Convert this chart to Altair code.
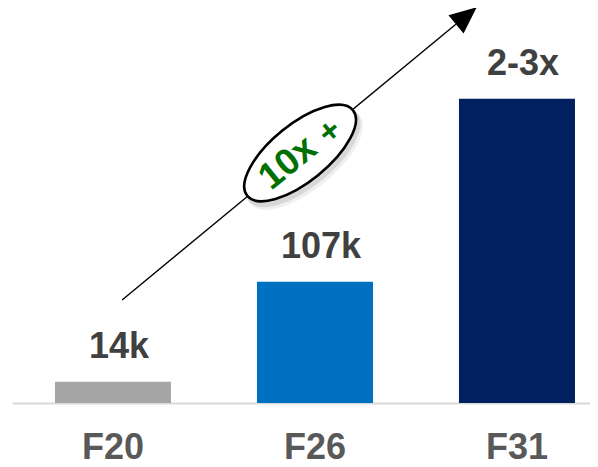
import altair as alt
import pandas as pd

# ---- data ----
categories = ["F20", "F26", "F31"]
values = [18.8, 107, 268.4]          # bar heights (same units as the 107k bar)
labels = ["14k", "107k", "2-3x"]
bar_colors = ["#a6a6a6", "#0070c0", "#002060"]

# annotation geometry in data units (x: category index, y: value units)
arrow_x = [0.045, 1.697]
arrow_y = [90.9, 334.1]
head_x = [1.749]
head_y = [341.5]
ellipse_x = [0.926]
ellipse_y = [220.5]
shadow_x = [0.941, 0.953]
shadow_y = [216.5, 214.3]
tag_x = [0.866, 1.074]
tag_y = [211.7, 239.0]
tag_text = ["10x", "+"]
tag_size = [37, 33]

FONT = "Liberation Sans"
Y_DOMAIN = [0, 348.4]
X_ANN_DOMAIN = [-0.5, 2.361]

bars_df = pd.DataFrame({"cat": categories, "val": values, "lab": labels})

xband = alt.X(
    "cat:N",
    sort=categories,
    scale=alt.Scale(paddingInner=0.4257, paddingOuter=0.1436, align=0.741),
    axis=alt.Axis(
        title=None, ticks=False, grid=False, domain=True,
        labelFont=FONT, labelFontSize=36, labelFontWeight="bold",
        labelColor="#595959", labelBaseline="alphabetic", labelPadding=55,
        labelAngle=0, domainColor="#d9d9d9", domainWidth=2,
    ),
)
yq = alt.Y("val:Q", scale=alt.Scale(domain=Y_DOMAIN, nice=False, zero=True), axis=None)

bars = alt.Chart(bars_df).mark_bar().encode(
    x=xband,
    y=yq,
    color=alt.Color("cat:N", scale=alt.Scale(domain=categories, range=bar_colors), legend=None),
)
texts = alt.Chart(bars_df).mark_text(
    font=FONT, fontSize=36, fontWeight="bold", color="#404040",
    baseline="alphabetic", align="center", dy=-24, dx=6,
).encode(x=xband, y=yq, text="lab:N")

base_layer = alt.layer(bars, texts)

xs = alt.Scale(domain=X_ANN_DOMAIN, nice=False, zero=False)
ys = alt.Scale(domain=Y_DOMAIN, nice=False, zero=True)

arrow_df = pd.DataFrame({"ax": arrow_x, "ay": arrow_y})
arrow = alt.Chart(arrow_df).mark_line(color="black", strokeWidth=1.4).encode(
    x=alt.X("ax:Q", scale=xs, axis=None),
    y=alt.Y("ay:Q", scale=ys, axis=None),
)

head_df = pd.DataFrame({"ax": head_x, "ay": head_y})
head = alt.Chart(head_df).mark_point(
    shape="M0,-1L0.88,1L-0.88,1Z", filled=True, fill="black", color="black",
    opacity=1, size=724, angle=50.4, strokeWidth=0,
).encode(
    x=alt.X("ax:Q", scale=xs, axis=None),
    y=alt.Y("ay:Q", scale=ys, axis=None),
)

ELLIPSE = "M-1,0A1,0.42 0 1,0 1,0A1,0.42 0 1,0 -1,0Z"

shadow_df = pd.DataFrame({"ax": shadow_x, "ay": shadow_y, "op": [0.22, 0.12]})
shadow = alt.Chart(shadow_df).mark_point(
    shape=ELLIPSE, filled=True, fill="#808080", strokeWidth=0,
    size=19600, angle=321,
).encode(
    x=alt.X("ax:Q", scale=xs, axis=None),
    y=alt.Y("ay:Q", scale=ys, axis=None),
    opacity=alt.Opacity("op:Q", scale=None, legend=None),
)

ell_df = pd.DataFrame({"ax": ellipse_x, "ay": ellipse_y})
ellipse = alt.Chart(ell_df).mark_point(
    shape=ELLIPSE, filled=False, fill="white", fillOpacity=1, stroke="black",
    strokeWidth=2.6, opacity=1, size=18496, angle=321,
).encode(
    x=alt.X("ax:Q", scale=xs, axis=None),
    y=alt.Y("ay:Q", scale=ys, axis=None),
)

tag_df = pd.DataFrame({"ax": tag_x, "ay": tag_y, "t": tag_text, "fs": tag_size})
tag = alt.Chart(tag_df).mark_text(
    font=FONT, fontWeight="bold", color="#007000", angle=321,
    align="center", baseline="middle",
).encode(
    x=alt.X("ax:Q", scale=xs, axis=None),
    y=alt.Y("ay:Q", scale=ys, axis=None),
    text="t:N",
    size=alt.Size("fs:Q", scale=None, legend=None),
)

chart = alt.layer(
    base_layer, arrow, head, shadow, ellipse, tag
).resolve_scale(
    x="independent", color="independent", opacity="independent", size="independent"
).properties(
    width=578, height=395,
    background="white",
    autosize=alt.AutoSizeParams(type="none"),
    padding={"left": 4, "top": 0, "right": 0, "bottom": 56},
).configure_view(
    stroke="transparent", strokeWidth=0
).configure_axis(
    domain=False, grid=False, ticks=False
)

chart.save("out.html", embed_options={"renderer": "svg", "actions": False})
